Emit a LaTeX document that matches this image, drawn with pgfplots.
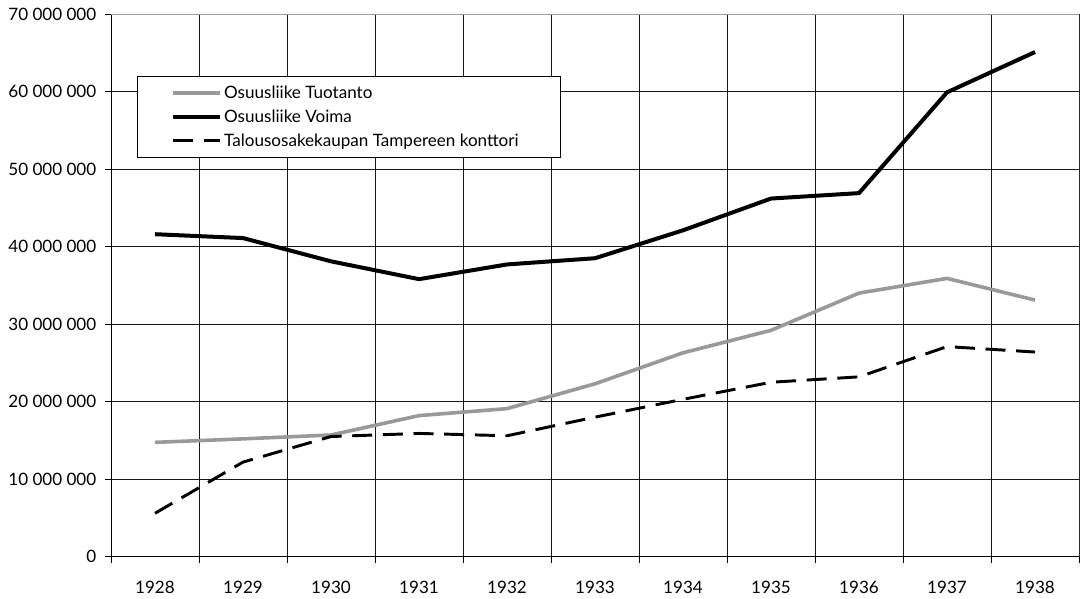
\documentclass[border=0pt]{standalone}
\usepackage{fontspec}
\setmainfont{Lato}
\usepackage{pgfplots}
\pgfplotsset{compat=1.18}
\definecolor{tuotanto}{RGB}{153,153,153}
\definecolor{kehys}{RGB}{160,160,160}

\begin{document}
\begin{tikzpicture}[font=\fontsize{12.8}{15}\selectfont]
\begin{axis}[
    scale only axis,
    width=726pt, height=407pt,
    xmin=-0.5, xmax=10.5,
    ymin=0, ymax=70000000,
    xtick={-0.5,0.5,...,10.5},
    x tick label as interval,
    xticklabels={1928,1929,1930,1931,1932,1933,1934,1935,1936,1937,1938},
    ytick={0,10000000,20000000,30000000,40000000,50000000,60000000,70000000},
    yticklabels={0,10 000 000,20 000 000,30 000 000,40 000 000,50 000 000,60 000 000,70 000 000},
    scaled y ticks=false,
    grid=major,
    major grid style={black!90, line width=0.6pt},
    tick align=outside,
    major tick length=4.5pt,
    tick style={black, line width=0.6pt},
    axis x line*=bottom, axis y line*=left,
    axis line style={black, line width=0.7pt},
    xticklabel style={yshift=-10pt},
    yticklabel style={xshift=-3pt},
    legend style={at={(rel axis cs:0.027,0.886)}, anchor=north west,
        draw=black, line width=0.6pt, fill=white,
        inner xsep=25pt, inner ysep=5pt, row sep=3pt},
    legend cell align=left,
    legend image code/.code={\draw[#1] (0pt,0pt) -- (35pt,0pt);},
]
\coordinate (ll) at (rel axis cs:0,0);
\draw[kehys, line width=0.75pt] (rel axis cs:0,1) -- (rel axis cs:1,1) -- (rel axis cs:1,0);

\addplot[tuotanto, line width=2.7pt] coordinates {
    (0,14750000) (1,15200000) (2,15700000) (3,18200000) (4,19100000)
    (5,22300000) (6,26300000) (7,29200000) (8,34000000) (9,35900000) (10,33100000)
};
\addlegendentry{Osuusliike Tuotanto}

\addplot[black, line width=3pt] coordinates {
    (0,41600000) (1,41100000) (2,38100000) (3,35800000) (4,37700000)
    (5,38500000) (6,42100000) (7,46200000) (8,46900000) (9,59900000) (10,65100000)
};
\addlegendentry{Osuusliike Voima}

\addplot[black, line width=2.2pt, dash pattern=on 15pt off 8pt] coordinates {
    (0,5600000) (1,12200000) (2,15500000) (3,15900000) (4,15600000)
    (5,18000000) (6,20300000) (7,22500000) (8,23200000) (9,27100000) (10,26400000)
};
\addlegendentry{Talousosakekaupan Tampereen konttori\hspace*{4pt}}
\end{axis}
\pgfresetboundingbox
\path (ll) ++(-83.25pt,-31.725pt) rectangle ++(813.75pt,449.25pt);
\end{tikzpicture}
\end{document}
